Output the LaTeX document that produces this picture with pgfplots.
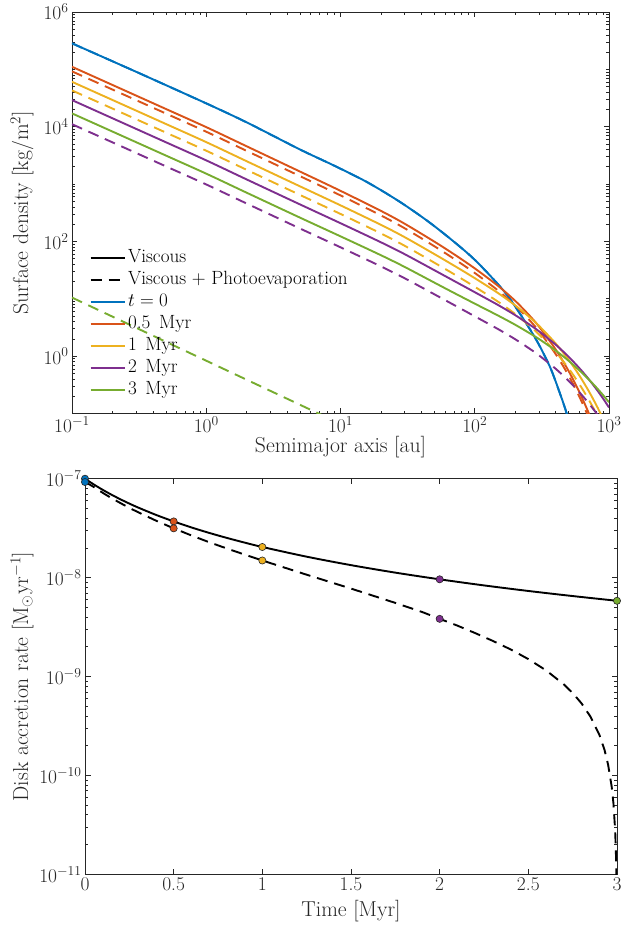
\RequirePackage{fix-cm}
\documentclass[border=0pt]{standalone}
\usepackage{pgfplots}
\pgfplotsset{compat=1.18}
\definecolor{mblue}{rgb}{0,0.447,0.741}
\definecolor{mred}{rgb}{0.850,0.325,0.098}
\definecolor{myellow}{rgb}{0.929,0.694,0.125}
\definecolor{mpurple}{rgb}{0.494,0.184,0.556}
\definecolor{mgreen}{rgb}{0.466,0.674,0.188}
\definecolor{axgray}{rgb}{0.15,0.15,0.15}
\pgfplotsset{
  mstyle/.style={
    scale only axis,
    axis line style={axgray, line width=0.8bp},
    tick style={axgray, line width=0.6bp},
    major tick length=5.5bp, minor tick length=3bp, tick align=inside,
    tick label style={text=axgray, font=\fontsize{19.5}{22}\selectfont},
    label style={text=axgray, font=\fontsize{21.7}{25}\selectfont},
    clip mode=individual,
  },
  vis/.style={line width=1.9bp},
  pe/.style={line width=1.9bp, dash pattern=on 11bp off 7bp},
}
\begin{document}
\begin{tikzpicture}
\path[use as bounding box] (0,0) rectangle (623bp,931bp);
% ---------------- top panel ----------------
\begin{axis}[mstyle,
  at={(72bp,517.5bp)}, anchor=south west, width=537bp, height=401.5bp,
  xmode=log, ymode=log, xmin=0.1, xmax=1000, ymin=0.1, ymax=1e6,
  xtick={0.1,1,10,100,1000}, ytick={1,100,10000,1000000},
  minor xtick={0.2,0.3,0.4,0.5,0.6,0.7,0.8,0.9,2,3,4,5,6,7,8,9,20,30,40,50,60,70,80,90,200,300,400,500,600,700,800,900},
  minor ytick={0.2,0.3,0.4,0.5,0.6,0.7,0.8,0.9,2,3,4,5,6,7,8,9,10,20,30,40,50,60,70,80,90,200,300,400,500,600,700,800,900,1000,2000,3000,4000,5000,6000,7000,8000,9000,2e4,3e4,4e4,5e4,6e4,7e4,8e4,9e4,1e5,2e5,3e5,4e5,5e5,6e5,7e5,8e5,9e5},
  xlabel={Semimajor axis [au]},
  ylabel={Surface density [kg/m$^2$]},
  xlabel style={at={(axis description cs:0.5,-0.0834)}, anchor=center},
  ylabel style={at={(axis description cs:-0.0931,0.5)}, anchor=center},
  legend image code/.code={\draw[#1] (0bp,0bp) -- (34bp,0bp);},
  legend cell align=left,
  legend style={draw=none, fill=none, at={(axis description cs:0.027,0.42)}, anchor=north west,
    font=\fontsize{19.2}{22}\selectfont, text=black, row sep=0pt,
    nodes={inner sep=2.5bp, text height=13bp, text depth=4bp}},
]
\addlegendimage{black, vis}\addlegendentry{Viscous}
\addlegendimage{black, pe}\addlegendentry{Viscous + Photoevaporation}
\addlegendimage{mblue, vis}\addlegendentry{$t = 0$}
\addlegendimage{mred, vis}\addlegendentry{0.5\hspace{0.45em}Myr}
\addlegendimage{myellow, vis}\addlegendentry{1\hspace{0.45em}Myr}
\addlegendimage{mpurple, vis}\addlegendentry{2\hspace{0.45em}Myr}
\addlegendimage{mgreen, vis}\addlegendentry{3\hspace{0.45em}Myr}
% t = 0
\addplot[mblue, vis, smooth, forget plot] coordinates {(0.1,2.84e5) (0.3,9.08e4) (1,2.55e4) (2,1.19e4) (4.99,4010) (8.83,2133) (15.66,1091) (27.7,489) (49.1,191) (95,53.5) (163,14.1) (217,5.51) (289,1.88) (364,0.644) (432,0.221) (484,0.1) (520,0.05)};
\addplot[mblue, pe, smooth, forget plot] coordinates {(0.1,2.84e5) (0.3,9.08e4) (1,2.55e4) (2,1.19e4) (4.99,4010) (8.83,2133) (15.66,1091) (27.7,489) (49.1,191) (95,53.5) (163,14.1) (217,5.51) (289,1.88) (364,0.644) (432,0.221) (484,0.1) (520,0.05)};
% 0.5 Myr
\addplot[mred, vis, smooth, forget plot] coordinates {(0.1,1.109e5) (0.2,5.35e4) (0.5,2.04e4) (1,9830) (2,4557) (5,1649) (10,762) (20,341) (30,204) (50,99.2) (70,59.9) (100,33.9) (150,16.6) (200,9.22) (250,5.40) (300,3.31) (400,1.315) (500,0.552) (600,0.239) (700,0.107) (800,0.0488)};
\addplot[mred, pe, smooth, forget plot] coordinates {(0.1,9.22e4) (0.2,4.45e4) (0.5,1.70e4) (1,8176) (2,3790) (5,1372) (10,634) (20,284) (30,170) (50,82.5) (70,49.8) (100,28.2) (150,13.8) (200,7.67) (250,4.49) (300,2.75) (400,1.094) (500,0.459) (600,0.199) (700,0.089) (800,0.0406)};
% 1 Myr
\addplot[myellow, vis, smooth, forget plot] coordinates {(0.1,6.065e4) (0.2,2.928e4) (0.5,1.117e4) (1,5385) (2,2502) (5,911) (10,425.8) (20,194.7) (30,119) (50,60.2) (70,37.95) (100,22.89) (150,12.46) (200,7.68) (250,5.003) (300,3.404) (400,1.670) (500,0.866) (600,0.4636) (700,0.2557) (800,0.144) (900,0.0824) (1000,0.0478)};
\addplot[myellow, pe, smooth, forget plot] coordinates {(0.1,4.293e4) (0.2,2.073e4) (0.5,7907) (1,3812) (2,1771) (5,645) (10,301.4) (20,137.8) (30,84.2) (50,42.6) (70,26.9) (100,16.2) (150,8.82) (200,5.44) (250,3.54) (300,2.41) (400,1.182) (500,0.613) (600,0.328) (700,0.181) (800,0.102) (900,0.0583)};
% 2 Myr
\addplot[mpurple, vis, smooth, forget plot] coordinates {(0.1,2.910e4) (0.2,1.405e4) (0.5,5363) (1,2588) (2,1204) (5,441) (10,207.8) (20,96.6) (30,60.1) (50,31.5) (70,20.53) (100,13.03) (150,7.73) (200,5.19) (250,3.684) (300,2.731) (400,1.590) (500,0.978) (600,0.6216) (700,0.4071) (800,0.2721) (900,0.1848) (1000,0.1273)};
\addplot[mpurple, pe, smooth, forget plot] coordinates {(0.1,1.106e4) (0.2,5342) (0.5,2039) (1,984) (2,458) (5,167.7) (10,79.0) (20,36.7) (30,22.85) (50,11.98) (70,7.81) (100,4.95) (150,2.94) (200,1.973) (250,1.401) (300,1.038) (400,0.6045) (500,0.3718) (600,0.2363) (700,0.1548) (800,0.1035) (900,0.0703)};
% 3 Myr
\addplot[mgreen, vis, smooth, forget plot] coordinates {(0.1,1.706e4) (0.2,8237) (0.5,3145) (1,1518) (2,707) (5,259.4) (10,122.7) (20,57.5) (30,36.0) (50,19.15) (70,12.67) (100,8.23) (150,5.064) (200,3.529) (250,2.599) (300,2.000) (400,1.254) (500,0.8314) (600,0.569) (700,0.4014) (800,0.2889) (900,0.2114) (1000,0.1569)};
\addplot[mgreen, pe, forget plot] coordinates {(0.1,10.5) (0.2,4.89) (0.5,1.78) (1,0.832) (2,0.388) (5,0.1416) (7,0.0978) (10,0.066)};
\end{axis}
% ---------------- bottom panel ----------------
\begin{axis}[mstyle,
  at={(85bp,56.7bp)}, anchor=south west, width=532bp, height=395.6bp,
  ymode=log, xmin=0, xmax=3, ymin=1e-11, ymax=1e-7,
  xtick={0,0.5,1,1.5,2,2.5,3},
  xticklabels={0,0.5,1,1.5,2,2.5,3},
  ytick={1e-11,1e-10,1e-9,1e-8,1e-7},
  minor ytick={2e-11,3e-11,4e-11,5e-11,6e-11,7e-11,8e-11,9e-11,2e-10,3e-10,4e-10,5e-10,6e-10,7e-10,8e-10,9e-10,2e-9,3e-9,4e-9,5e-9,6e-9,7e-9,8e-9,9e-9,2e-8,3e-8,4e-8,5e-8,6e-8,7e-8,8e-8,9e-8},
  xlabel={Time [Myr]},
  ylabel={Disk accretion rate [M$_\odot$yr$^{-1}$]},
  xlabel style={at={(axis description cs:0.5,-0.0928)}, anchor=center},
  ylabel style={at={(axis description cs:-0.1184,0.5)}, anchor=center},
]
\addplot[black, vis, smooth] coordinates {(0,1e-7) (0.05,8.74e-8) (0.1,7.72e-8) (0.15,6.885e-8) (0.2,6.19e-8) (0.25,5.606e-8) (0.3,5.11e-8) (0.4,4.31e-8) (0.5,3.70e-8) (0.6,3.217e-8) (0.7,2.833e-8) (0.8,2.52e-8) (0.9,2.26e-8) (1,2.04e-8) (1.25,1.628e-8) (1.5,1.337e-8) (1.75,1.123e-8) (2,9.61e-9) (2.25,8.34e-9) (2.5,7.33e-9) (2.75,6.51e-9) (3,5.83e-9)};
\addplot[black, pe] coordinates {(0,9.3e-8) (0.05,8.24e-8) (0.1,7.2e-8) (0.15,6.35e-8) (0.2,5.67e-8) (0.25,5.07e-8) (0.3,4.58e-8) (0.4,3.77e-8) (0.5,3.15e-8) (0.6,2.67e-8) (0.7,2.28e-8) (0.8,1.97e-8) (0.9,1.71e-8) (1,1.49e-8) (1.25,1.07e-8) (1.5,7.75e-9) (1.75,5.55e-9) (1.9,4.5e-9) (2,3.83e-9) (2.1,3.27e-9) (2.2,2.75e-9) (2.3,2.29e-9) (2.4,1.88e-9) (2.5,1.50e-9) (2.6,1.154e-9) (2.7,8.33e-10) (2.75,6.81e-10) (2.8,5.35e-10) (2.85,3.94e-10) (2.9,2.59e-10) (2.93,1.80e-10) (2.95,1.28e-10) (2.97,7.7e-11) (2.98,5.2e-11) (2.99,2.7e-11) (2.995,1.4e-11) (2.998,7e-12)};
\addplot[only marks, mark=*, mark size=3.6bp, mark options={draw=axgray, line width=0.6bp, fill=mblue}] coordinates {(0,1e-7) (0,9.26e-8)};
\addplot[only marks, mark=*, mark size=3.6bp, mark options={draw=axgray, line width=0.6bp, fill=mred}] coordinates {(0.5,3.70e-8) (0.5,3.15e-8)};
\addplot[only marks, mark=*, mark size=3.6bp, mark options={draw=axgray, line width=0.6bp, fill=myellow}] coordinates {(1,2.04e-8) (1,1.49e-8)};
\addplot[only marks, mark=*, mark size=3.6bp, mark options={draw=axgray, line width=0.6bp, fill=mpurple}] coordinates {(2,9.61e-9) (2,3.83e-9)};
\addplot[only marks, mark=*, mark size=3.6bp, mark options={draw=axgray, line width=0.6bp, fill=mgreen}] coordinates {(3,5.83e-9)};
\end{axis}
\end{tikzpicture}
\end{document}
